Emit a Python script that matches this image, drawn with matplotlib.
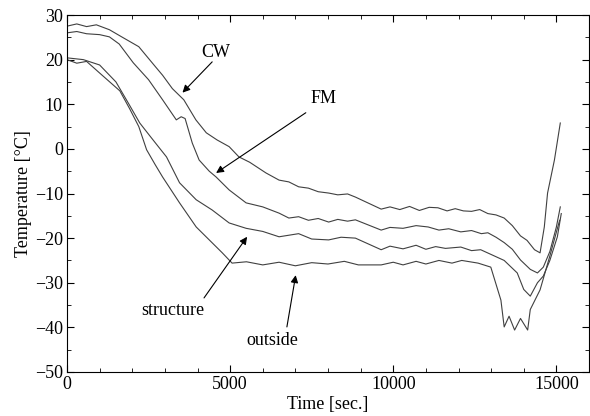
import matplotlib
matplotlib.use("Agg")
import matplotlib.pyplot as plt
from matplotlib.ticker import MultipleLocator

plt.rcParams['font.family'] = ['Liberation Serif', 'DejaVu Serif']

# ---- data ----
cw_t = [0, 300, 600, 900, 1300, 1700, 2200, 2700, 2930, 3230, 3580, 3950, 4270, 4600, 4970,
        5270, 5600, 6100, 6500, 6800, 7100, 7400, 7700, 8020, 8300, 8600, 8840, 9630, 9900,
        10200, 10500, 10800, 11100, 11370, 11650, 11900, 12150, 12400, 12650, 12900, 13150,
        13400, 13650, 13900, 14100, 14330, 14500, 14630, 14730, 14940, 15120]
cw_T = [27.5, 28.0, 27.4, 27.8, 26.7, 25.0, 22.9, 18.5, 16.5, 13.5, 11.0, 6.5, 3.6, 2.0, 0.5,
        -1.8, -3.0, -5.4, -7.0, -7.4, -8.5, -8.8, -9.6, -9.9, -10.3, -10.1, -10.8, -13.5, -13.0,
        -13.6, -12.9, -13.8, -13.1, -13.2, -13.9, -13.4, -13.9, -14.0, -13.6, -14.5, -14.8,
        -15.5, -17.2, -19.5, -20.5, -22.6, -23.3, -17.5, -9.9, -2.5, 5.8]

fm_t = [0, 300, 600, 1000, 1300, 1600, 2030, 2500, 2930, 3350, 3500, 3620, 3840, 4050, 4360,
        4570, 4970, 5490, 6000, 6500, 6800, 7100, 7400, 7700, 8020, 8300, 8600, 8840, 9630,
        9900, 10300, 10700, 11070, 11400, 11700, 12070, 12400, 12700, 12900, 13150, 13400,
        13650, 13900, 14200, 14420, 14600, 14800, 15000, 15120]
fm_T = [26.0, 26.3, 25.8, 25.6, 25.1, 23.5, 19.3, 15.5, 11.0, 6.5, 7.2, 6.8, 1.3, -2.5, -5.0,
        -6.3, -9.2, -12.1, -13.0, -14.4, -15.5, -15.2, -16.0, -15.6, -16.4, -15.8, -16.2, -15.9,
        -18.2, -17.6, -17.8, -17.2, -17.5, -18.2, -17.9, -18.6, -18.3, -19.0, -18.8, -19.8,
        -21.0, -22.5, -24.9, -27.0, -27.8, -26.5, -23.0, -17.5, -13.0]

st_t = [0, 500, 1000, 1500, 1900, 2230, 2530, 2800, 3050, 3450, 3960, 4450, 4970, 5490, 6000,
        6500, 7100, 7500, 8020, 8400, 8840, 9630, 9900, 10300, 10700, 11000, 11300, 11600,
        12070, 12400, 12680, 13100, 13400, 13800, 14000, 14200, 14420, 14600, 14800, 15030, 15150]
st_T = [20.4, 20.0, 18.8, 15.0, 10.0, 5.8, 3.0, 0.5, -1.8, -7.6, -11.4, -13.7, -16.6, -17.8, -18.5,
        -19.7, -19.0, -20.2, -20.4, -19.8, -20.0, -22.6, -21.8, -22.4, -21.6, -22.5, -21.9, -22.3,
        -22.0, -22.8, -22.6, -24.0, -25.0, -27.8, -31.5, -33.0, -30.0, -28.5, -25.0, -19.7, -14.5]

out_t = [0, 300, 600, 1000, 1620, 1920, 2200, 2440, 2700, 2930, 3450, 3960, 4360, 4760, 5060,
         5500, 6000, 6500, 7000, 7500, 8000, 8500, 8930, 9630, 10000, 10300, 10700, 11000,
         11400, 11800, 12100, 12600, 12990, 13300, 13400, 13550, 13720, 13900, 14120, 14200,
         14500, 14800, 15100]
out_T = [20.0, 19.2, 19.6, 17.0, 13.0, 9.0, 5.0, -0.2, -3.5, -6.3, -12.1, -17.5, -20.4, -23.3, -25.6,
         -25.3, -26.0, -25.4, -26.2, -25.5, -25.8, -25.2, -26.0, -26.0, -25.4, -26.0, -25.2, -25.8,
         -25.0, -25.6, -25.0, -25.6, -26.5, -33.9, -39.9, -37.5, -40.6, -38.0, -40.6, -36.0,
         -31.6, -24.0, -16.0]

labels = ["CW", "FM", "structure", "outside"]
label_pos = [(4570, 21.7), (7870, 11.2), (3230, -36.3), (6280, -43.0)]
arrow_start = [(4450, 19.5), (7320, 8.1), (4200, -33.4), (6740, -39.9)]
arrow_tip = [(3540, 12.6), (4570, -5.4), (5520, -19.7), (7010, -28.3)]

xticks = [0, 5000, 10000, 15000]
yticks = [-50, -40, -30, -20, -10, 0, 10, 20, 30]

# ---- figure ----
fig = plt.figure(figsize=(5.9, 4.16), dpi=100)
ax = fig.add_axes([67/590, 1 - 372/416, (589 - 67)/590, (372 - 15)/416])

for t, T in [(cw_t, cw_T), (fm_t, fm_T), (st_t, st_T), (out_t, out_T)]:
    ax.plot(t, T, color='0.25', lw=0.8)

for lab, p, s, e in zip(labels, label_pos, arrow_start, arrow_tip):
    ax.text(p[0], p[1], lab, ha='center', va='center', fontsize=13)
    ax.annotate('', xy=e, xytext=s,
                arrowprops=dict(arrowstyle='-|>', color='black', lw=0.8,
                                mutation_scale=11, shrinkA=0, shrinkB=0))

ax.set_xlim(0, 16000)
ax.set_ylim(-50, 30)
ax.set_xticks(xticks)
ax.set_yticks(yticks)
ax.xaxis.set_minor_locator(MultipleLocator(1000))
ax.yaxis.set_minor_locator(MultipleLocator(5))
ax.tick_params(which='both', direction='in', top=True, right=True, labelsize=13, pad=3)
ax.tick_params(which='major', length=5)
ax.tick_params(which='minor', length=3)
for sp in ax.spines.values():
    sp.set_linewidth(0.8)

ax.set_xlabel('Time [sec.]', fontsize=13, labelpad=2)
ax.set_ylabel('Temperature [\u00b0C]', fontsize=13, labelpad=2)

fig.savefig('out.png', dpi=100)
